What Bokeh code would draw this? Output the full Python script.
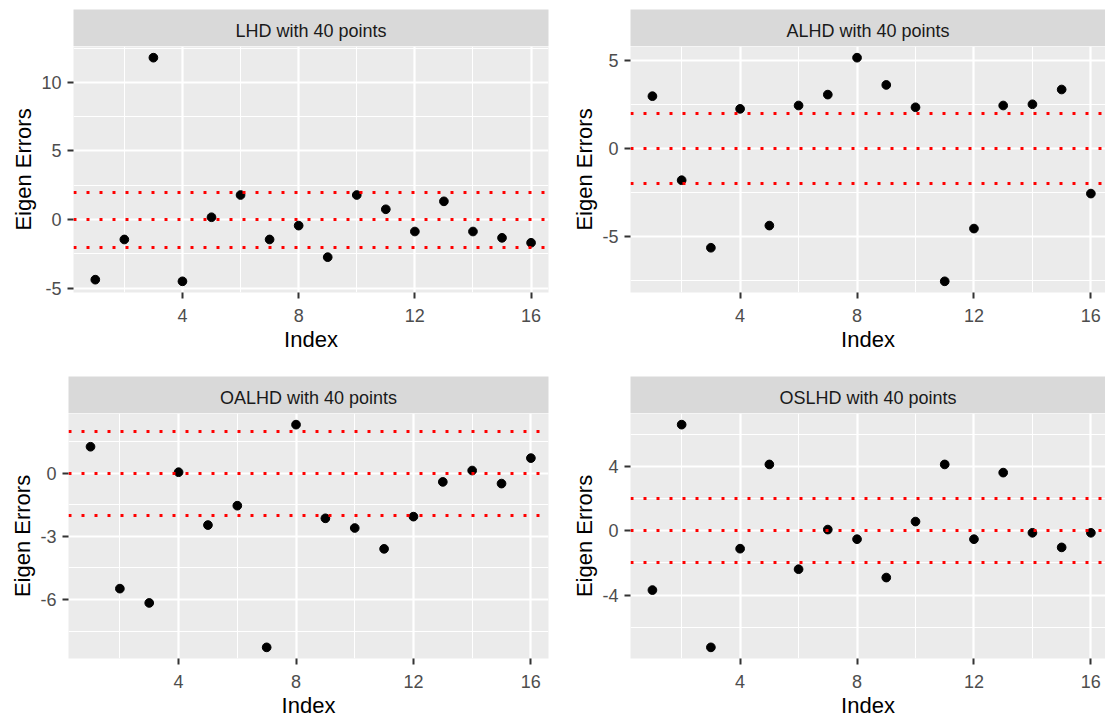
from bokeh.plotting import figure
from bokeh.layouts import row, column
from bokeh.models import Range1d, FixedTicker, Label
from bokeh.embed import file_html
from bokeh.resources import INLINE

# Index of each eigenvalue
index = list(range(1, 17))

# Eigen errors for each design
lhd_errors = [-4.38, -1.45, 11.8, -4.5, 0.17, 1.79, -1.45, -0.44,
              -2.74, 1.79, 0.75, -0.87, 1.33, -0.87, -1.33, -1.69]
alhd_errors = [2.97, -1.81, -5.65, 2.25, -4.39, 2.44, 3.06, 5.16,
               3.61, 2.34, -7.56, -4.56, 2.44, 2.51, 3.35, -2.57]
oalhd_errors = [1.26, -5.48, -6.16, 0.05, -2.46, -1.54, -8.27, 2.31,
                -2.14, -2.6, -3.59, -2.06, -0.41, 0.13, -0.49, 0.72]
oslhd_errors = [-3.69, 6.62, -7.26, -1.11, 4.14, -2.39, 0.08, -0.52,
                -2.91, 0.58, 4.14, -0.52, 3.63, -0.12, -1.03, -0.12]

panel_titles = ["LHD with 40 points", "ALHD with 40 points",
                "OALHD with 40 points", "OSLHD with 40 points"]

# Horizontal reference levels (dotted red)
reference_levels = [-2, 0, 2]

# Tick positions
x_ticks = [4, 8, 12, 16]
x_minor = [2, 6, 10, 14]
lhd_y_ticks, lhd_y_minor = [-5, 0, 5, 10], [-2.5, 2.5, 7.5, 12.5]
alhd_y_ticks, alhd_y_minor = [-5, 0, 5], [-7.5, -2.5, 2.5]
oalhd_y_ticks, oalhd_y_minor = [-6, -3, 0], [-7.5, -4.5, -1.5, 1.5]
oslhd_y_ticks, oslhd_y_minor = [-4, 0, 4], [-6, -2, 2, 6]

FONT = "Liberation Sans"
STRIP_H = 37
PANEL_H = 246


def make_panel(title, values, y_ticks, y_minor, left, frame_w, right,
               x_end, top_gap, bottom_gap):
    width = left + frame_w + right

    # facet strip above the panel
    strip = figure(width=width, height=top_gap + STRIP_H,
                   min_border_left=left, min_border_right=right,
                   min_border_top=top_gap, min_border_bottom=0,
                   x_range=(0, 1), y_range=(0, 1),
                   x_axis_location=None, y_axis_location=None,
                   toolbar_location=None, output_backend="svg",
                   background_fill_color="#D9D9D9",
                   border_fill_color="white", outline_line_color=None)
    strip.grid.visible = False
    strip.add_layout(Label(x=0.5, y=0.5, y_offset=-3, text=title,
                           text_align="center", text_baseline="middle",
                           text_font=FONT, text_font_size="18px",
                           text_color="#1A1A1A"))

    lo = min(min(values), min(reference_levels))
    hi = max(max(values), max(reference_levels))
    pad = 0.05 * (hi - lo)

    p = figure(width=width, height=PANEL_H + bottom_gap,
               min_border_left=left, min_border_right=right,
               min_border_top=0, min_border_bottom=bottom_gap,
               x_range=Range1d(index[0] - 0.75, x_end),
               y_range=Range1d(lo - pad, hi + pad),
               toolbar_location=None, output_backend="svg",
               background_fill_color="#EBEBEB",
               border_fill_color="white", outline_line_color=None)

    p.scatter(x=index, y=values, size=8.7, color="black")
    p.hspan(y=reference_levels, line_color="red", line_width=3,
            line_dash="3 10")

    p.xaxis.ticker = FixedTicker(ticks=x_ticks, minor_ticks=x_minor)
    p.yaxis.ticker = FixedTicker(ticks=y_ticks, minor_ticks=y_minor)
    p.xaxis.major_label_overrides = {t: str(t) for t in x_ticks}
    p.yaxis.major_label_overrides = {t: str(t) for t in y_ticks}
    p.xaxis.axis_label = "Index"
    p.yaxis.axis_label = "Eigen Errors"

    p.axis.axis_line_color = None
    p.axis.major_tick_line_color = "#333333"
    p.axis.major_tick_line_width = 2
    p.axis.major_tick_out = 6
    p.axis.major_tick_in = 0
    p.axis.minor_tick_line_color = None
    p.axis.major_label_text_font = FONT
    p.axis.major_label_text_font_size = "18px"
    p.axis.major_label_text_color = "#4D4D4D"
    p.axis.axis_label_text_font = FONT
    p.axis.axis_label_text_font_size = "22px"
    p.axis.axis_label_text_font_style = "normal"
    p.axis.axis_label_text_color = "black"
    p.xaxis.major_label_standoff = 10
    p.xaxis.axis_label_standoff = 2
    p.yaxis.major_label_standoff = 6
    p.yaxis.axis_label_standoff = 2

    p.grid.grid_line_color = "white"
    p.grid.grid_line_width = 2.2
    p.grid.minor_grid_line_color = "white"
    p.grid.minor_grid_line_width = 1.1

    return column(strip, p)


top_left = make_panel(panel_titles[0], lhd_errors, lhd_y_ticks, lhd_y_minor,
                      73, 475, 4, 16.6, 9, 68)
top_right = make_panel(panel_titles[1], alhd_errors, alhd_y_ticks, alhd_y_minor,
                       78, 475, 0, 16.5, 9, 68)
bottom_left = make_panel(panel_titles[2], oalhd_errors, oalhd_y_ticks, oalhd_y_minor,
                         68, 480, 4, 16.6, 16, 61)
bottom_right = make_panel(panel_titles[3], oslhd_errors, oslhd_y_ticks, oslhd_y_minor,
                          78, 475, 0, 16.5, 16, 61)

layout = column(row(top_left, top_right), row(bottom_left, bottom_right))

open("out.html", "w").write(file_html(layout, INLINE))
